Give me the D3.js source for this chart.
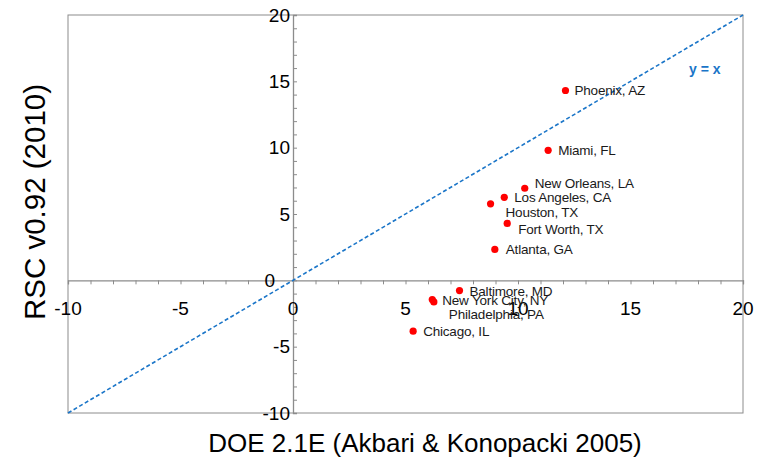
<!DOCTYPE html>
<html><head><meta charset="utf-8">
<script src="https://cdn.jsdelivr.net/npm/d3@7"></script>
<style>body{margin:0;background:#fff}svg{display:block}text{font-family:Arial,"Liberation Sans",sans-serif}</style>
</head><body><svg id="c" width="759" height="467"></svg>
<script>
const cities = ["Phoenix, AZ","Miami, FL","New Orleans, LA","Los Angeles, CA","Houston, TX","Fort Worth, TX","Atlanta, GA","Baltimore, MD","New York City, NY","Philadelphia, PA","Chicago, IL"];
const doeValues = [12.11, 11.34, 10.30, 9.39, 8.78, 9.52, 8.97, 7.40, 6.19, 6.26, 5.34];
const rscValues = [14.31, 9.80, 6.94, 6.26, 5.77, 4.29, 2.33, -0.77, -1.45, -1.63, -3.83];
const xTicks = [-10, -5, 0, 5, 10, 15, 20];
const yTicks = [-10, -5, 0, 5, 10, 15, 20];
const xTitle = "DOE 2.1E (Akbari & Konopacki 2005)";
const yTitle = "RSC v0.92 (2010)";
const lineLabel = "y = x";
// label offsets (layout only)
const labelDx = [9, 10, 10, 10, 15, 11, 11, 10, 10, 15, 10];
const labelDy = [0, 0, -5, 0, 8, 6, 0, 1, 1, 12, 0];

const svg = d3.select("#c");
const L = 68, R = 743, T = 15, B = 413;
const x = d3.scaleLinear().domain([-10, 20]).range([L, R]);
const y = d3.scaleLinear().domain([-10, 20]).range([B, T]);
const grey = "#8c8c8c";

// plot box
svg.append("rect").attr("x", L).attr("y", T).attr("width", R - L).attr("height", B - T)
  .attr("fill", "none").attr("stroke", grey).attr("stroke-width", 1);

// x axis through y=0, minor ticks every 1
const xAxis = d3.axisBottom(x).tickValues(d3.range(-10, 21, 1)).tickSize(4).tickFormat("");
const gx = svg.append("g").attr("transform", `translate(0,${y(0)})`).call(xAxis);
gx.select(".domain").attr("stroke", grey).attr("stroke-width", 1.3);
gx.selectAll(".tick line").attr("stroke", grey);
// y axis through x=0, ticks to right
const yAxis = d3.axisRight(y).tickValues(d3.range(-10, 21, 1)).tickSize(4).tickFormat("");
const gy = svg.append("g").attr("transform", `translate(${x(0)},0)`).call(yAxis);
gy.select(".domain").attr("stroke", grey).attr("stroke-width", 1.3);
gy.selectAll(".tick line").attr("stroke", grey);

// tick labels
svg.append("g").selectAll("text").data(xTicks).join("text")
  .attr("x", d => x(d)).attr("y", y(0) + 35).attr("text-anchor", "middle")
  .attr("font-size", 19).attr("fill", "#000").text(d => d);
svg.append("g").selectAll("text").data(yTicks).join("text")
  .attr("x", d => d === 0 ? x(0) - 18 : x(0) - 3).attr("y", d => y(d)).attr("dy", "0.35em")
  .attr("text-anchor", "end").attr("font-size", 19).attr("fill", "#000").text(d => d);

// y = x line
const line = d3.line().x(d => x(d)).y(d => y(d));
svg.append("path").datum([-10, 20]).attr("d", line)
  .attr("stroke", "#1a75c8").attr("stroke-width", 1.6).attr("stroke-dasharray", "4,2.5").attr("fill", "none");
svg.append("text").attr("x", x(18.3)).attr("y", y(15.9)).attr("dy", "0.35em")
  .attr("text-anchor", "middle").attr("font-size", 14).attr("font-weight", "bold")
  .attr("fill", "#1a75c8").text(lineLabel);

// points
const idx = d3.range(cities.length);
svg.append("g").selectAll("circle").data(idx).join("circle")
  .attr("cx", i => x(doeValues[i])).attr("cy", i => y(rscValues[i])).attr("r", 3.6).attr("fill", "#ff0000");
svg.append("g").selectAll("text").data(idx).join("text")
  .attr("x", i => x(doeValues[i]) + labelDx[i]).attr("y", i => y(rscValues[i]) + labelDy[i]).attr("dy", "0.35em")
  .attr("font-size", 13.5).attr("fill", "#1a1a1a").attr("letter-spacing", "-0.2").text(i => cities[i]);

// titles
svg.append("text").attr("x", 425).attr("y", 452).attr("text-anchor", "middle")
  .attr("font-size", 26).attr("fill", "#000").text(xTitle);
svg.append("text").attr("transform", "translate(45,202) rotate(-90)").attr("text-anchor", "middle")
  .attr("font-size", 29.5).attr("fill", "#000").text(yTitle);
</script></body></html>
